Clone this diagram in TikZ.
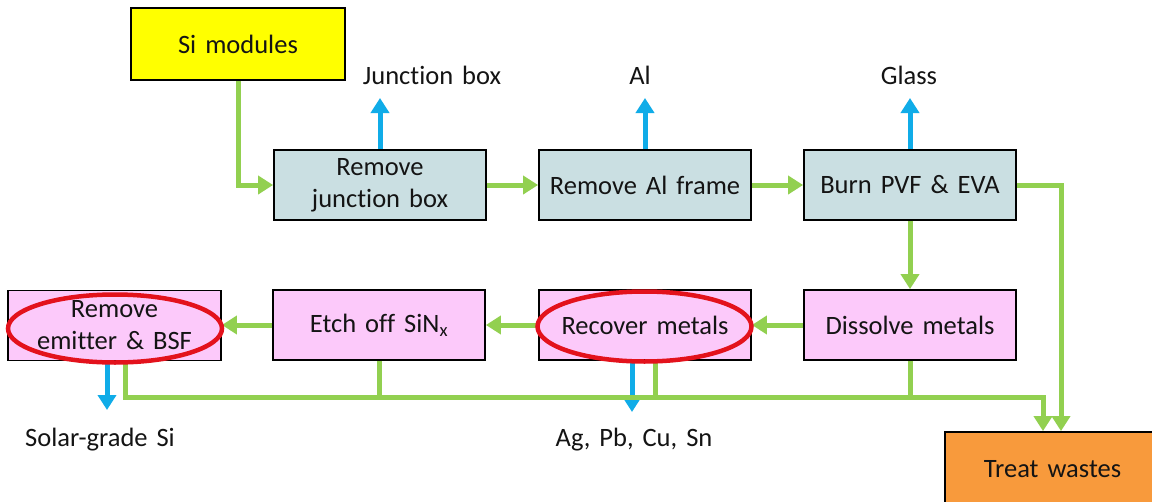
\documentclass[tikz,border=0pt]{standalone}
\usepackage{fontspec}
\setmainfont{Carlito}[Ligatures=NoCommon, WordSpace=1.5]
\usetikzlibrary{arrows.meta}
\definecolor{flowgreen}{HTML}{92D050}
\definecolor{flowblue}{HTML}{10ACE8}
\definecolor{ringred}{HTML}{E3121C}
\definecolor{boxblue}{HTML}{CADFE2}
\definecolor{boxpink}{HTML}{FCC9FA}
\definecolor{boxyel}{HTML}{FFFF00}
\definecolor{boxorg}{HTML}{F89A3C}
\definecolor{inktext}{HTML}{141414}
\tikzset{
  procbox/.style={draw=black, line width=1.8pt, minimum width=212pt, minimum height=70pt,
    inner sep=0pt, align=center, font=\fontsize{26.5}{32}\selectfont, text=inktext},
  lbl/.style={inner sep=0pt, font=\fontsize{26.5}{32}\selectfont, text=inktext},
  gline/.style={draw=flowgreen, line width=5pt},
  garr/.style={gline, -{Triangle[length=15pt,width=18pt]}},
  barr/.style={draw=flowblue, line width=5pt, -{Triangle[length=15pt,width=18pt]}},
  ring/.style={draw=ringred, line width=4.5pt}
}
\begin{document}
\begin{tikzpicture}[x=1pt,y=-1pt]
\useasboundingbox[fill=white] (0,0) rectangle (1152,501);

% process boxes
\node[procbox, fill=boxyel, minimum width=214pt, minimum height=72pt] (sim) at (238,44) {Si modules};
\node[procbox, fill=boxblue] (rjb) at (380,185) {Remove\\junction box};
\node[procbox, fill=boxblue] (ral) at (645,185) {Remove Al frame};
\node[procbox, fill=boxblue] (burn) at (910,185) {Burn PVF \& EVA};
\node[procbox, fill=boxpink, minimum width=213pt] (rem) at (114.5,325.5) {Remove\\emitter \& BSF};
\node[procbox, fill=boxpink] (etch) at (379,325) {Etch off SiN\textsubscript{x}};
\node[procbox, fill=boxpink] (rec) at (645,325) {Recover metals};
\node[procbox, fill=boxpink] (dis) at (910,325) {Dissolve metals};
\node[procbox, fill=boxorg, minimum width=215pt, minimum height=74pt] (trt) at (1052.5,469) {Treat wastes};

% product labels
\node[lbl] (jbl) at (432,75) {Junction box};
\node[lbl] (all) at (640,75) {Al};
\node[lbl] (gll) at (909,75) {Glass};
\node[lbl] (sgl) at (100,440) {Solar-grade Si};
\node[lbl] (agl) at (634,440) {Ag, Pb, Cu, Sn};

% main flow
\draw[garr] (sim.south) |- (rjb.west);
\draw[garr] (rjb) -- (ral);
\draw[garr] (ral) -- (burn);
\draw[garr] (burn) -- (dis);
\draw[garr] (dis) -- (rec);
\draw[garr] (rec) -- (etch);
\draw[garr] (etch.west) -- (etch.west -| rem.east);

% products (blue)
\coordinate (jbtip) at (380,98);
\coordinate (altip) at (645,98);
\coordinate (gltip) at (910,98);
\coordinate (sgtip) at (107,410);
\coordinate (agtip) at (632,412);
\draw[barr] (rjb.north) -- (jbtip);
\draw[barr] (ral.north) -- (altip);
\draw[barr] (burn.north) -- (gltip);
\draw[barr] (rem.south -| sgtip) -- (sgtip);
\draw[barr] (rec.south -| agtip) -- (agtip);

% waste collection
\coordinate (w0) at (125,397);
\coordinate (w2) at (655,397);
\coordinate (wj) at (1043,397);
\coordinate (wb) at (1061,185);
\draw[gline] (etch.south) -- (etch.south |- wj);
\draw[gline] (rec.south -| w2) -- (w2);
\draw[gline] (dis.south) -- (dis.south |- wj);
\draw[garr] (rem.south -| w0) -- (w0) -- (wj) -- (wj |- trt.north);
\draw[garr] (burn.east) -- (wb) -- (wb |- trt.north);

% highlight rings
\draw[ring] (115,328.5) ellipse [x radius=107pt, y radius=34pt];
\draw[ring] (644.5,326.5) ellipse [x radius=107pt, y radius=35pt];
\end{tikzpicture}
\end{document}
